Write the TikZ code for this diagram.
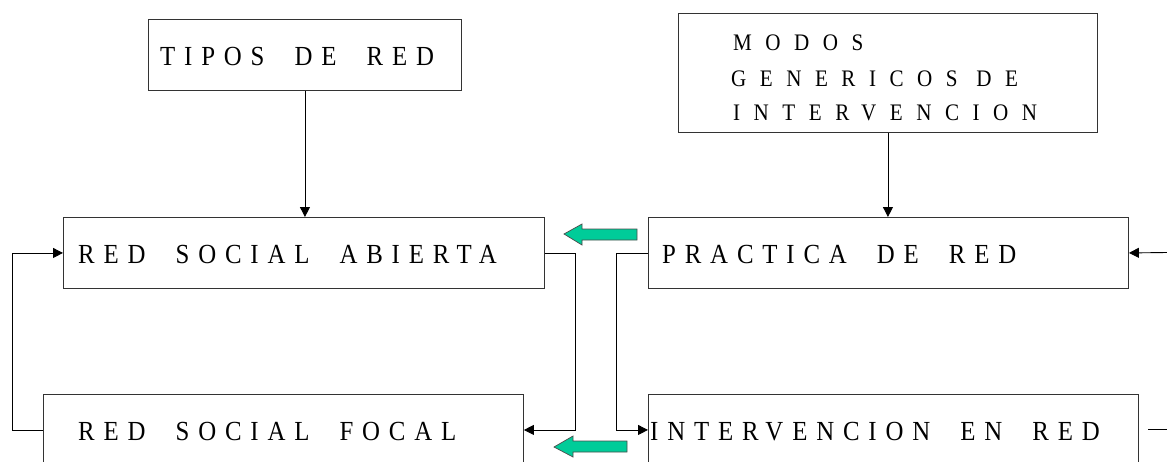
\documentclass[tikz,border=0pt]{standalone}
\usepackage{fontspec}
\usetikzlibrary{arrows.meta}
\newfontfamily\boxfont[LetterSpace=32,FakeStretch=0.9,WordSpace=2]{Liberation Serif}
\newfontfamily\modfont[LetterSpace=57,FakeStretch=0.89]{Liberation Serif}
\definecolor{blockgreen}{RGB}{0,204,153}
\begin{document}
\begin{tikzpicture}[x=1pt,y=-1pt,
  box/.style={draw=black!80, line width=0.9pt, inner sep=0pt, anchor=north west},
  lbl/.style={anchor=base west, inner sep=0pt, font=\boxfont\fontsize{27.6}{34}\selectfont},
  mlbl/.style={anchor=base west, inner sep=0pt, font=\modfont\fontsize{23.7}{30}\selectfont},
  conn/.style={line width=0.9pt, -{Triangle[length=10pt,width=10pt]}},
  plain/.style={line width=0.9pt},
  blockarrow/.style={fill=blockgreen, draw=black!70, line width=0.7pt}]
\useasboundingbox (0,0) rectangle (1167,461);
\clip (0,0) rectangle (1167,461);
% boxes
\node[box, minimum width=313pt, minimum height=71pt] (tipos) at (148,19) {};
\node[box, minimum width=419pt, minimum height=119pt] (modos) at (678,13) {};
\node[box, minimum width=481pt, minimum height=71pt] (abierta) at (63,217) {};
\node[box, minimum width=480pt, minimum height=71pt] (practica) at (648,217) {};
\node[box, minimum width=480pt, minimum height=71pt] (focal) at (43,394) {};
\node[box, minimum width=490pt, minimum height=71pt] (interv) at (648,394) {};
% texts
\node[lbl] (tiposT) at (160,65) {TIPOS DE RED};
\node[mlbl] (modosT1) at (733,50) {MODOS};
\node[mlbl] (modosT2) at (731,86) {GENERICOS DE};
\node[mlbl] (modosT3) at (733,120) {INTERVENCION};
\node[lbl] (abiertaT) at (78,263) {RED SOCIAL ABIERTA};
\node[lbl] (practicaT) at (662,263) {PRACTICA DE RED};
\node[lbl] (focalT) at (78,440) {RED SOCIAL FOCAL};
\node[lbl] (intervT) at (650,440) {INTERVENCION EN RED};
% free ends
\coordinate (rin) at (1167,252.5);
\coordinate (routA) at (1148,429.5);
\coordinate (routB) at (1167,429.5);
% connectors
\draw[conn] (tipos.south) -- (tipos.south |- abierta.north);
\draw[conn] (modos.south) -- (modos.south |- practica.north);
\draw[conn] (focal.west) -- ++(-31,0) |- (abierta.west);
\draw[conn] (abierta.east) -- ++(31,0) |- (focal.east);
\draw[conn] (practica.west) -- ++(-32,0) |- (interv.west);
\draw[conn] (rin) -- (practica.east);
\draw[plain] (routA) -- (routB);
% green block arrows
\draw[blockarrow] (564,234) -- (582,224) -- (582,229) -- (637,229) -- (637,240) -- (582,240) -- (582,245) -- cycle;
\draw[blockarrow] (554,447) -- (573,436) -- (573,441) -- (627,441) -- (627,452) -- (573,452) -- (573,457) -- cycle;
\end{tikzpicture}
\end{document}
